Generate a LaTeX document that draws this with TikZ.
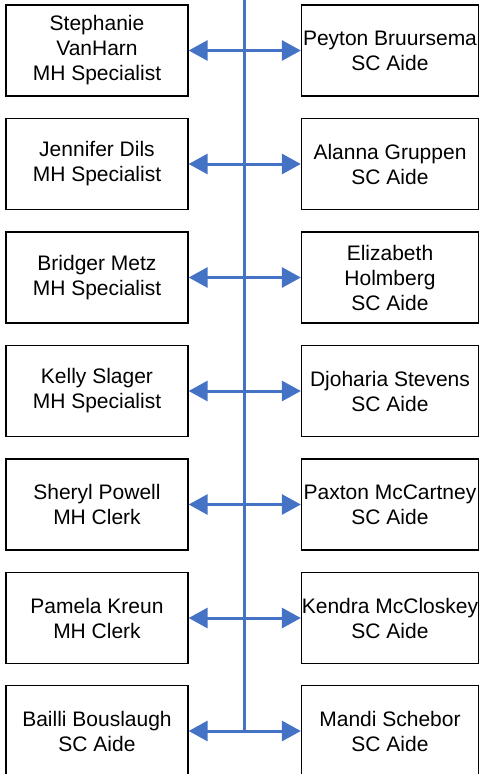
\documentclass[tikz,border=0pt]{standalone}
\usepackage{fontspec}
\setmainfont{Liberation Sans}
\usetikzlibrary{arrows.meta}

\definecolor{lienbleu}{RGB}{68,114,196}

\tikzstyle{staff} = [rectangle, draw, line width=1.3pt, minimum width=182pt, minimum height=91pt, inner sep=0pt, align=center, font=\fontsize{21}{25}\selectfont]
\tikzstyle{aide} = [staff, minimum width=177pt]
\tikzstyle{axe} = [draw=lienbleu, line width=3pt]
\tikzstyle{lien} = [axe, {Triangle[length=19pt,width=20pt]}-{Triangle[length=19pt,width=20pt]}]

\begin{document}
\begin{tikzpicture}[x=1pt, y=-1pt]

    \useasboundingbox (0,0) rectangle (479,774);

    %  colonne gauche
    \node[staff] (L1) at (97,50.5) {Stephanie\\VanHarn\\MH Specialist};
    \node[staff] (L2) at (97,164) {Jennifer Dils\\MH Specialist};
    \node[staff] (L3) at (97,277.5) {Bridger Metz\\MH Specialist};
    \node[staff] (L4) at (97,391) {Kelly Slager\\MH Specialist};
    \node[staff] (L5) at (97,504.5) {Sheryl Powell\\MH Clerk};
    \node[staff] (L6) at (97,618) {Pamela Kreun\\MH Clerk};
    \node[staff] (L7) at (97,731) {Bailli Bouslaugh\\SC Aide};

   %-------------------------------------------------------------
    %  colonne droite
    \node[aide] (R1) at (390,50.5) {Peyton Bruursema\\SC Aide};
    \node[aide] (R2) at (390,164) {Alanna Gruppen\\SC Aide};
    \node[aide] (R3) at (390,277.5) {Elizabeth\\Holmberg\\SC Aide};
    \node[aide] (R4) at (390,391) {Djoharia Stevens\\SC Aide};
    \node[aide] (R5) at (390,504.5) {Paxton McCartney\\SC Aide};
    \node[aide] (R6) at (390,618) {Kendra McCloskey\\SC Aide};
    \node[aide] (R7) at (390,731) {Mandi Schebor\\SC Aide};

   %-------------------------------------------------------------
    %  liens
    \coordinate (haut) at (244,0);
    \coordinate (bas) at (244,731);
    \draw[axe] (haut) -- (bas);

    \foreach \i in {1,...,7}
        \draw[lien] (L\i.east) -- (R\i.west);

\end{tikzpicture}
\end{document}
